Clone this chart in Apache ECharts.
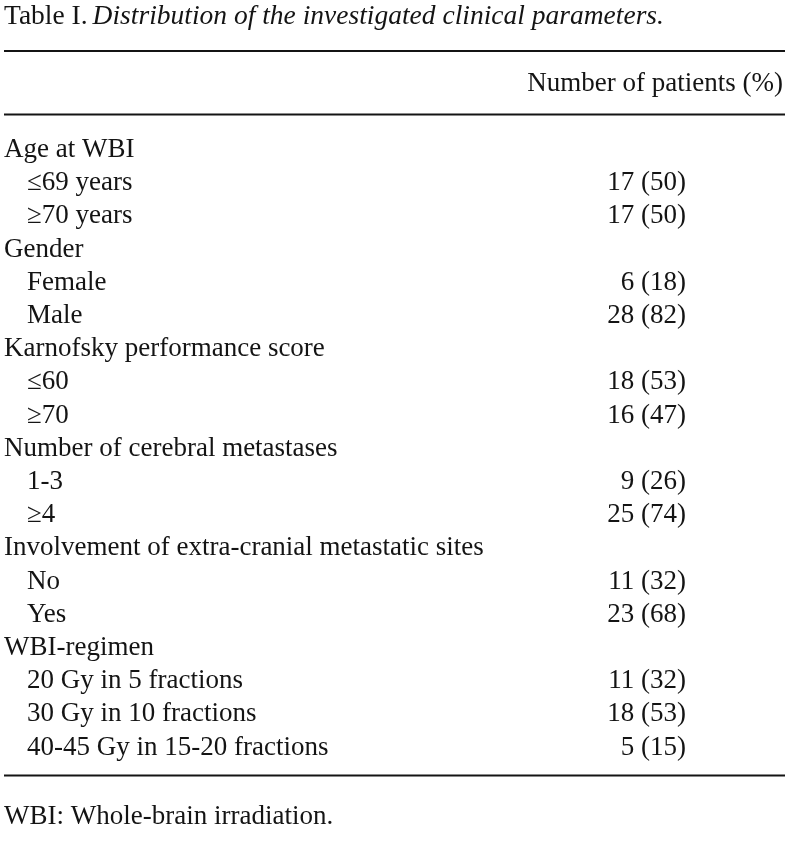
<!DOCTYPE html>
<html><head><meta charset="utf-8">
<script src="https://cdn.jsdelivr.net/npm/echarts@6/dist/echarts.min.js"></script>
<style>html,body{margin:0;padding:0;background:#fff}#c{width:789px;height:843px}</style>
</head><body><div id="c"></div>
<script>
const titleLead = 'Table I.';
const titleText = 'Distribution of the investigated clinical parameters.';
const columnHeader = 'Number of patients (%)';
const footnote = 'WBI: Whole-brain irradiation.';
const rowLabels = [
  'Age at WBI', '≤69 years', '≥70 years',
  'Gender', 'Female', 'Male',
  'Karnofsky performance score', '≤60', '≥70',
  'Number of cerebral metastases', '1-3', '≥4',
  'Involvement of extra-cranial metastatic sites', 'No', 'Yes',
  'WBI-regimen', '20 Gy in 5 fractions', '30 Gy in 10 fractions', '40-45 Gy in 15-20 fractions'
];
const rowIsHeading = [1,0,0, 1,0,0, 1,0,0, 1,0,0, 1,0,0, 1,0,0,0];
const patientCounts = [null,17,17, null,6,28, null,18,16, null,9,25, null,11,23, null,11,18,5];
const patientPercents = [null,50,50, null,18,82, null,53,47, null,26,74, null,32,68, null,32,53,15];

const FONT = '"Liberation Serif", "Times New Roman", serif';
const FS = 27;
const INK = '#141414';

const chart = echarts.init(document.getElementById('c'), null, {renderer: 'canvas'});
const rowData = rowLabels.map((lab, i) => [0, i]);
const ROW0 = 150, ROWSTEP = 33.2;
const gridTop = ROW0 - ROWSTEP / 2;
const gridHeight = ROWSTEP * rowLabels.length;

chart.setOption({
  backgroundColor: '#fff',
  animation: false,
  title: {
    left: 0, top: 0, padding: [3, 0, 0, 4],
    text: '{a|' + titleLead + '} {b|' + titleText + '}',
    textStyle: {
      fontWeight: 'normal',
      rich: {
        a: {fontFamily: FONT, fontSize: 27.5, fontWeight: 'normal', color: INK},
        b: {fontFamily: FONT, fontSize: 27.5, fontWeight: 'normal', fontStyle: 'italic', color: INK}
      }
    }
  },
  grid: {left: 0, right: 0, top: gridTop, height: gridHeight},
  xAxis: {type: 'value', min: 0, max: 789, show: false},
  yAxis: {type: 'category', data: rowLabels, inverse: true, show: false},
  graphic: [
    {type: 'line', shape: {x1: 4, y1: 51, x2: 785, y2: 51}, style: {stroke: INK, lineWidth: 2}},
    {type: 'line', shape: {x1: 4, y1: 114.5, x2: 785, y2: 114.5}, style: {stroke: INK, lineWidth: 2}},
    {type: 'line', shape: {x1: 4, y1: 775.5, x2: 785, y2: 775.5}, style: {stroke: INK, lineWidth: 2}},
    {type: 'text', right: 6, top: 70, style: {text: columnHeader, font: FS + 'px ' + FONT, fill: INK}},
    {type: 'text', left: 4, top: 803, style: {text: footnote, font: FS + 'px ' + FONT, fill: INK}}
  ],
  series: [{
    type: 'custom',
    data: rowData,
    encode: {x: 0, y: 1},
    renderItem: function (params, api) {
      const i = api.value(1);
      const y = api.coord([0, i])[1];
      const xLabel = api.coord([rowIsHeading[i] ? 4 : 27, i])[0];
      const xValue = api.coord([686, i])[0];
      const children = [{
        type: 'text', x: xLabel, y: y,
        style: {text: rowLabels[i], font: FS + 'px ' + FONT, fill: INK, align: 'left', verticalAlign: 'middle'}
      }];
      if (patientCounts[i] != null) {
        children.push({
          type: 'text', x: xValue, y: y,
          style: {text: patientCounts[i] + ' (' + patientPercents[i] + ')', font: FS + 'px ' + FONT, fill: INK, align: 'right', verticalAlign: 'middle'}
        });
      }
      return {type: 'group', children: children};
    }
  }]
});
</script></body></html>
